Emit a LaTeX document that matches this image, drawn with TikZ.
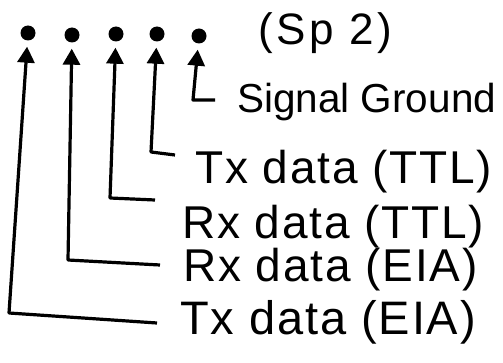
\documentclass[tikz,border=0pt]{standalone}
\usepackage{fontspec}
\setmainfont{Liberation Sans}
\newfontfamily\handfont[LetterSpace=4]{Liberation Sans}
\newfontfamily\wideshand[LetterSpace=8]{Liberation Sans}
\usetikzlibrary{arrows.meta}
\begin{document}
\begin{tikzpicture}[x=1pt,y=1pt,
  pin/.style={circle,fill=black,inner sep=0pt,minimum size=15pt},
  lead/.style={line width=3.2pt,line join=round,-{Triangle[width=17pt,length=16pt]},shorten >=6pt},
  lab/.style={anchor=west,inner sep=0pt,font=\handfont\fontsize{46}{50}\selectfont}]
\useasboundingbox (0,0) rectangle (503,362);
% pins
\node[pin] (d1) at (28,329) {};
\node[pin] (d2) at (72,327) {};
\node[pin] (d3) at (116,328) {};
\node[pin] (d4) at (157,328) {};
\node[pin] (d5) at (199,326) {};
% labels
\node[lab,font=\wideshand\fontsize{44}{48}\selectfont] (sp) at (258,329) {(Sp 2)};
\node[lab,font=\fontsize{40.5}{44}\selectfont] (sg) at (237,260) {Signal Ground};
\node[lab] (l4) at (195,190) {Tx data (TTL)};
\node[lab] (l3) at (182,135) {Rx data (TTL)};
\node[lab] (l2) at (183,92) {Rx data (EIA)};
\node[lab,font=\handfont\fontsize{47}{50}\selectfont] (l1) at (180,40) {Tx data (EIA)};
% corners and free ends
\coordinate (c1) at (9,49);   \coordinate (e1) at (157,39);
\coordinate (c2) at (68,102); \coordinate (e2) at (160,97);
\coordinate (c3) at (110,164);\coordinate (e3) at (155,162);
\coordinate (c4) at (151,210);\coordinate (e4) at (175,207);
\coordinate (c5) at (193,262);\coordinate (e5) at (215,262);
% leads
\draw[lead] (e1) -- (c1) -- (d1);
\draw[lead] (e2) -- (c2) -- (d2);
\draw[lead] (e3) -- (c3) -- (d3);
\draw[lead] (e4) -- (c4) -- (d4);
\draw[lead] (e5) -- (c5) -- (d5);
\end{tikzpicture}
\end{document}
